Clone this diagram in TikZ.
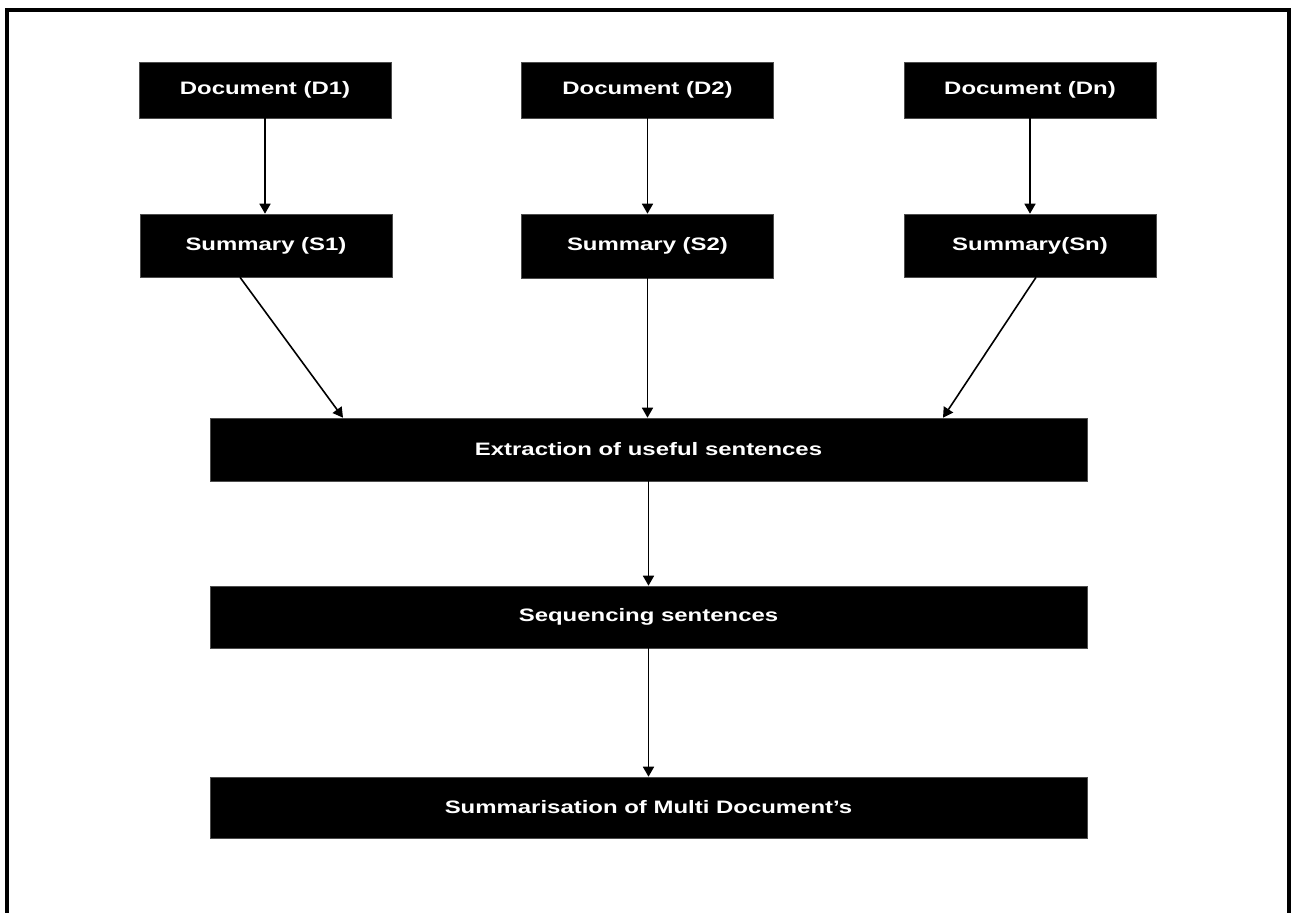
\documentclass[tikz,border=0pt]{standalone}
\usepackage{fontspec}
\setmainfont{Liberation Sans}[FakeStretch=1.33]
\usetikzlibrary{arrows.meta}
\begin{document}
\begin{tikzpicture}[x=1pt,y=-1pt,
  blk/.style={fill=black,draw=black!70,line width=0.6pt,text=white,inner sep=0pt,
    font=\fontsize{18}{20}\selectfont\bfseries},
  small/.style={blk,minimum width=252pt},
  wide/.style={blk,minimum width=877pt,minimum height=63pt},
  conn/.style={line width=1.6pt,-{Triangle[width=11pt,length=10pt]}},
  frame/.style={line width=4pt}
]
\useasboundingbox (0,0) rectangle (1291,913);
\draw[frame] (7,915) -- (7,10) -- (1289,10) -- (1289,915);

\node[small,minimum height=56pt] (d1) at (265,90) {Document (D1)};
\node[small,minimum height=56pt] (d2) at (647.5,90) {Document (D2)};
\node[small,minimum height=56pt] (dn) at (1030,90) {Document (Dn)};

\node[small,minimum height=63pt] (s1) at (266,245.5) {Summary (S1)};
\node[small,minimum height=64pt] (s2) at (647.5,246) {Summary (S2)};
\node[small,minimum height=63pt] (sn) at (1030,245.5) {Summary(Sn)};

\node[wide] (ext) at (648.5,449.5) {Extraction of useful sentences};
\node[wide,minimum height=62pt] (seq) at (648.5,617) {Sequencing sentences};
\node[wide,minimum height=61pt] (sum) at (648.5,807.5) {Summarisation of Multi Document’s};

\draw[conn] (d1.south) -- (d1.south |- s1.north);
\draw[conn] (d2.south) -- (d2.south |- s2.north);
\draw[conn] (dn.south) -- (dn.south |- sn.north);

\draw[conn] ([xshift=-26pt]s1.south) -- ([xshift=-305.5pt]ext.north);
\draw[conn] ([yshift=2pt]s2.south) -- (s2.south |- ext.north);
\draw[conn] ([xshift=6pt]sn.south) -- ([xshift=294.5pt]ext.north);

\draw[conn] (ext.south) -- (seq.north);
\draw[conn] (seq.south) -- (sum.north);
\end{tikzpicture}
\end{document}
